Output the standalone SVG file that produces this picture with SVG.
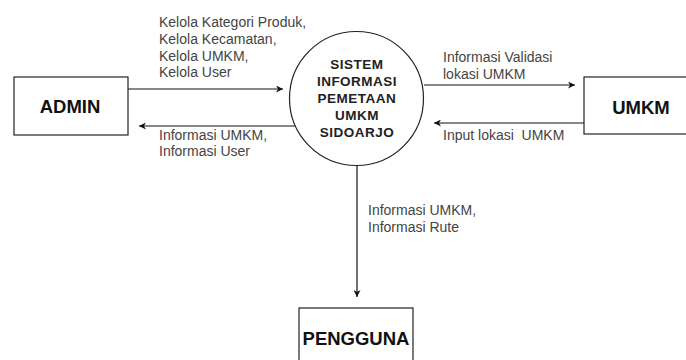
<svg xmlns="http://www.w3.org/2000/svg" width="686" height="360" viewBox="0 0 686 360">
<defs>
<style>
.box{fill:#fff;stroke:#222;stroke-width:1.2}
.lbl{font-family:"Liberation Sans",Arial,sans-serif;font-size:14px;fill:#444;white-space:pre}
.ttl{font-family:"Liberation Sans",Arial,sans-serif;font-size:18.5px;font-weight:bold;fill:#111;text-anchor:middle}
.ctl{font-family:"Liberation Sans",Arial,sans-serif;font-size:13.5px;font-weight:bold;fill:#222;text-anchor:middle;letter-spacing:0.5px}
.line{stroke:#111;stroke-width:1.2;fill:none}
</style>
<marker id="ah" viewBox="0 0 10 10" refX="10" refY="5" markerWidth="7" markerHeight="7" orient="auto" markerUnits="userSpaceOnUse">
<path d="M0,0 L10,5 L0,10 L3,5 Z" fill="#111"/>
</marker>
</defs>
<rect width="686" height="360" fill="#fff"/>
<g id="connectors">
<line class="line" x1="128" y1="89" x2="283" y2="89" marker-end="url(#ah)"/>
<line class="line" x1="296" y1="126" x2="139" y2="126" marker-end="url(#ah)"/>
<line class="line" x1="424" y1="85" x2="575" y2="85" marker-end="url(#ah)"/>
<line class="line" x1="584" y1="123" x2="434" y2="123" marker-end="url(#ah)"/>
<line class="line" x1="357" y1="165" x2="357" y2="297" marker-end="url(#ah)"/>
<text class="lbl" x="159" y="27">Kelola Kategori Produk,</text>
<text class="lbl" x="159" y="44">Kelola Kecamatan,</text>
<text class="lbl" x="159" y="61">Kelola UMKM,</text>
<text class="lbl" x="159" y="77">Kelola User</text>
<text class="lbl" x="159" y="140">Informasi UMKM,</text>
<text class="lbl" x="159" y="156">Informasi User</text>
<text class="lbl" x="443" y="62">Informasi Validasi</text>
<text class="lbl" x="443" y="79">lokasi UMKM</text>
<text class="lbl" x="443" y="140" xml:space="preserve">Input lokasi  UMKM</text>
<text class="lbl" x="368" y="215">Informasi UMKM,</text>
<text class="lbl" x="368" y="232">Informasi Rute</text>
</g>
<g id="admin">
<rect class="box" x="14" y="77" width="114" height="58"/>
<text class="ttl" x="70" y="113">ADMIN</text>
</g>
<g id="sistem">
<circle class="box" cx="356.5" cy="98.5" r="67"/>
<text class="ctl" x="357" y="69">SISTEM</text>
<text class="ctl" x="357" y="86">INFORMASI</text>
<text class="ctl" x="357" y="103">PEMETAAN</text>
<text class="ctl" x="357" y="120">UMKM</text>
<text class="ctl" x="357" y="137">SIDOARJO</text>
</g>
<g id="umkm">
<rect class="box" x="584" y="77" width="114" height="57"/>
<text class="ttl" x="641" y="114">UMKM</text>
</g>
<g id="pengguna">
<rect class="box" x="299" y="308" width="114" height="60"/>
<text class="ttl" x="356" y="345">PENGGUNA</text>
</g>
</svg>
